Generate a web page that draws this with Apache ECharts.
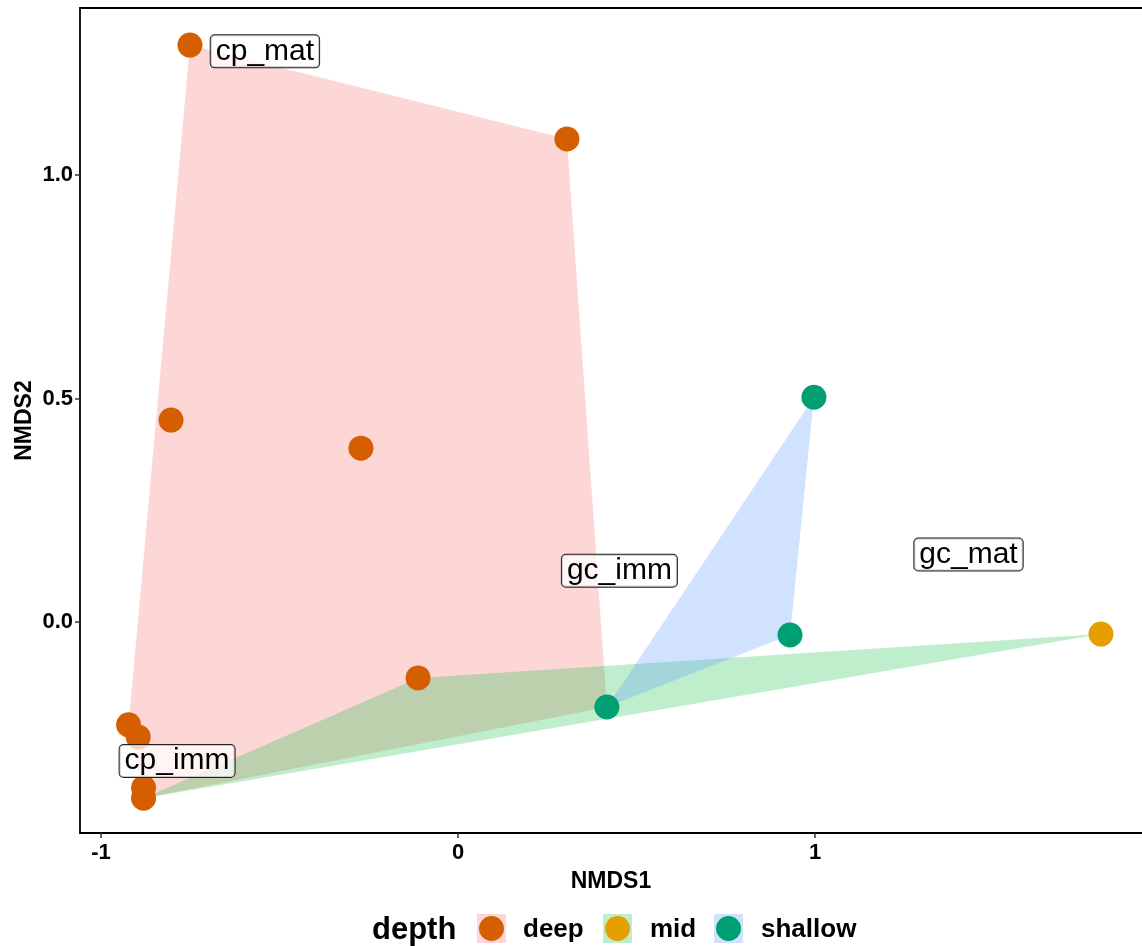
<!DOCTYPE html>
<html>
<head>
<meta charset="utf-8">
<script src="https://cdn.jsdelivr.net/npm/echarts@6/dist/echarts.min.js"></script>
<style>
html,body{margin:0;padding:0;background:#fff;}
#chart{width:1142px;height:946px;}
</style>
</head>
<body>
<div id="chart"></div>
<script>
// ---- data ----
const xTicks = [-1, 0, 1];
const yTicks = [0, 0.5, 1.0];
const groups = ['deep', 'mid', 'shallow'];
const deepPts = [[-0.751, 1.291], [0.305, 1.081], [-0.804, 0.452], [-0.272, 0.389], [-0.112, -0.125],
                 [-0.923, -0.230], [-0.896, -0.257], [-0.881, -0.371], [-0.881, -0.394]];
const midPts = [[1.801, -0.027]];
const shallowPts = [[0.997, 0.503], [0.930, -0.029], [0.417, -0.190]];
const hullDeep = [[-0.751, 1.291], [0.305, 1.081], [0.417, -0.190], [-0.881, -0.394], [-0.923, -0.230]];
const hullMid = [[-0.112, -0.125], [1.801, -0.027], [-0.881, -0.394]];
const hullShallow = [[0.997, 0.503], [0.930, -0.029], [0.417, -0.190]];
const labelNames = ['cp_mat', 'gc_imm', 'gc_mat', 'cp_imm'];
const labelX = [-0.541, 0.452, 1.430, -0.787];
const labelY = [1.277, 0.115, 0.151, -0.311];

// ---- styles ----
const pointColors = {deep: '#D55E00', mid: '#E69F00', shallow: '#009E73'};
const hullColors = {deep: 'rgba(248,118,109,0.29)', mid: 'rgba(0,186,56,0.25)', shallow: 'rgba(97,156,255,0.29)'};
const FONT = '"Liberation Sans", Arial, sans-serif';
const AXIS_LINE = {show: true, onZero: false, lineStyle: {color: '#000', width: 1.8}};

function hullSeries(name, hull) {
  return {
    type: 'custom',
    name: name + '_hull',
    silent: true,
    z: 1,
    data: [hull[0]],
    renderItem: function (params, api) {
      return {
        type: 'polygon',
        shape: {points: hull.map(p => api.coord(p))},
        style: {fill: hullColors[name], stroke: null}
      };
    }
  };
}

const chart = echarts.init(document.getElementById('chart'), null, {renderer: 'canvas'});

const option = {
  animation: false,
  backgroundColor: '#fff',
  grid: {left: 80, top: 8, width: 1062, height: 825, show: false, containLabel: false, outerBoundsMode: 'none'},
  xAxis: [{
    type: 'value', min: -1.059, max: 1.916,
    splitLine: {show: false},
    axisLine: AXIS_LINE,
    axisTick: {show: true, customValues: xTicks, length: 5, lineStyle: {color: '#333', width: 1.5}},
    axisLabel: {customValues: xTicks, margin: 9, color: '#000', fontWeight: 'bold', fontSize: 22, fontFamily: FONT,
      formatter: v => String(Math.round(v))},
    name: 'NMDS1', nameLocation: 'middle', nameGap: 37, nameMoveOverlap: false,
    nameTextStyle: {color: '#000', fontWeight: 'bold', fontSize: 23, fontFamily: FONT}
  }, {
    type: 'value', position: 'top', min: -1.059, max: 1.916,
    splitLine: {show: false}, axisLine: AXIS_LINE,
    axisTick: {show: false}, axisLabel: {show: false}
  }],
  yAxis: {
    type: 'value', min: -0.472, max: 1.374,
    splitLine: {show: false},
    axisLine: AXIS_LINE,
    axisTick: {show: true, customValues: yTicks, length: 5, lineStyle: {color: '#333', width: 1.5}},
    axisLabel: {customValues: yTicks, margin: 7, color: '#000', fontWeight: 'bold', fontSize: 22, fontFamily: FONT,
      padding: [5, 0, 0, 0], formatter: v => v.toFixed(1)},
    name: 'NMDS2', nameLocation: 'middle', nameRotate: 90, nameGap: 44, nameMoveOverlap: false,
    nameTextStyle: {color: '#000', fontWeight: 'bold', fontSize: 23, fontFamily: FONT}
  },
  series: [
    hullSeries('deep', hullDeep),
    hullSeries('mid', hullMid),
    hullSeries('shallow', hullShallow),
    {type: 'scatter', name: 'deep', z: 3, symbolSize: 25, data: deepPts, itemStyle: {color: pointColors.deep, opacity: 1}},
    {type: 'scatter', name: 'mid', z: 3, symbolSize: 25, data: midPts, itemStyle: {color: pointColors.mid, opacity: 1}},
    {type: 'scatter', name: 'shallow', z: 3, symbolSize: 25, data: shallowPts, itemStyle: {color: pointColors.shallow, opacity: 1}},
    {
      type: 'scatter', name: 'labels', z: 5, symbolSize: 2, silent: true,
      itemStyle: {color: 'rgba(0,0,0,0)'},
      data: labelNames.map((n, i) => ({name: n, value: [labelX[i], labelY[i]]})),
      label: {
        show: true, position: 'inside', formatter: '{b}',
        color: '#000', opacity: 1, fontSize: 30, fontFamily: FONT, lineHeight: 30,
        backgroundColor: 'rgba(255,255,255,0.75)', borderColor: '#222', borderWidth: 1, borderRadius: 4,
        padding: [1, 5, 1, 5]
      },
      labelLayout: {hideOverlap: false}
    }
  ],
  graphic: []
};

// legend built from the group names
const legendItems = [];
legendItems.push({type: 'text', left: 372, top: 915, style: {text: 'depth', font: 'bold 31px ' + FONT, fill: '#000'}});
const keyLeft = [477, 603, 714];
const labLeft = [523, 650, 761];
groups.forEach((g, i) => {
  legendItems.push({type: 'rect', shape: {x: keyLeft[i], y: 914, width: 29, height: 29}, style: {fill: hullColors[g]}});
  legendItems.push({type: 'circle', shape: {cx: keyLeft[i] + 14.5, cy: 928.5, r: 12.5}, style: {fill: pointColors[g]}});
  legendItems.push({type: 'text', left: labLeft[i], top: 917, style: {text: g, font: 'bold 26px ' + FONT, fill: '#000'}});
});
option.graphic = legendItems;

chart.setOption(option);
</script>
</body>
</html>
